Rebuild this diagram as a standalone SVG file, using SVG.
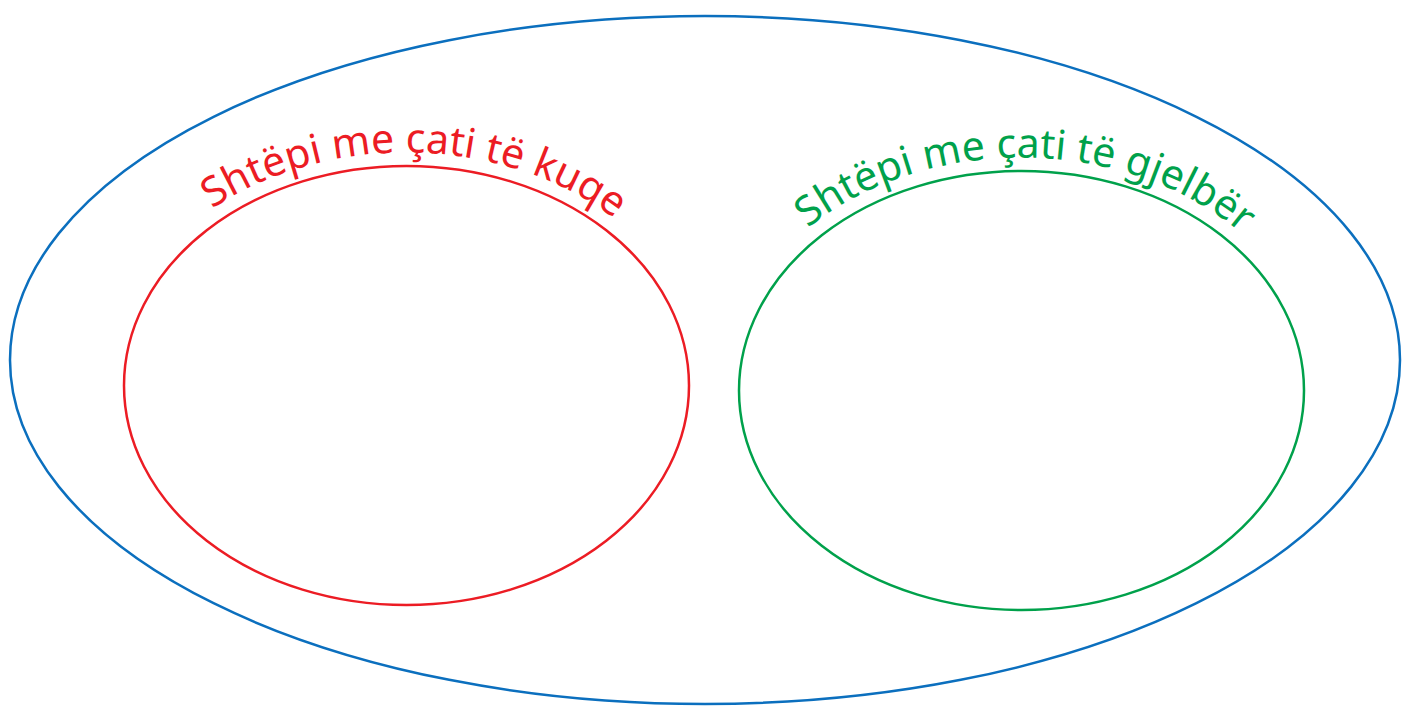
<svg xmlns="http://www.w3.org/2000/svg" width="1402" height="712" viewBox="0 0 1402 712">
<style>
.set{fill:none;stroke-width:2.5}
.lbl{font-family:"Noto Sans","Lato",sans-serif;font-size:41px}
</style>
<defs>
<path id="arcR" d="M 108.5 385.5 A 298 233 0 0 1 704.5 385.5"/>
<path id="arcG" d="M 723.5 390.5 A 298 233 0 0 1 1319.5 390.5"/>
</defs>
<rect width="1402" height="712" fill="#fff"/>
<g id="universe"><ellipse class="set" cx="705" cy="360" rx="695" ry="344" stroke="#0b6fbe"/></g>
<g id="red">
<ellipse class="set" cx="406.5" cy="385.5" rx="282.5" ry="219.5" stroke="#ec1c24"/>
<text class="lbl" fill="#ec1c24"><textPath href="#arcR" startOffset="51%" text-anchor="middle">Shtëpi me çati të kuqe</textPath></text>
</g>
<g id="green">
<ellipse class="set" cx="1021.5" cy="390.5" rx="282.5" ry="219.5" stroke="#00a14b"/>
<text class="lbl" fill="#00a14b"><textPath href="#arcG" startOffset="50.5%" text-anchor="middle">Shtëpi me çati të gjelbër</textPath></text>
</g>
<g id="connectors"/>
</svg>
